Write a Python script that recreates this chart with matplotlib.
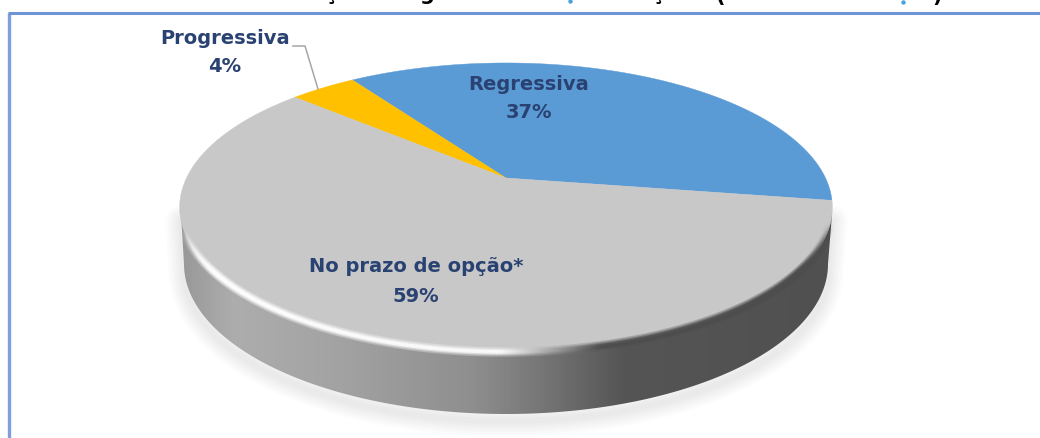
import numpy as np
import matplotlib
matplotlib.use('Agg')
import matplotlib.pyplot as plt
from matplotlib.collections import LineCollection
from matplotlib.colors import LinearSegmentedColormap
from matplotlib.patches import Polygon
from matplotlib.path import Path
from matplotlib.transforms import Affine2D, Transform

categories = ['Regressiva', 'Progressiva', 'No prazo de opção*']
shares = [37, 4, 59]
slice_colors = ['#5B9BD5', '#FFC000', '#C8C8C8']
title_bits = ['ç', 'g', 'ç', '(', ')']
title_x = [330, 427, 657, 720, 937]

W, H = 1040, 439
TEXT = '#2A4272'

# pie plane to pixel position, perspective of the tilted disc
CX, CY = 506, 179
A, B, K = 319.5, 138.5, 0.204


class Tilt(Transform):
    input_dims = 2
    output_dims = 2

    def transform_non_affine(self, values):
        xy = np.asarray(values, dtype=float)
        w = 1 + K * xy[:, 1]
        return np.column_stack([CX + A * xy[:, 0] / w, CY - B * xy[:, 1] / w])

    def transform_path_non_affine(self, path):
        # flatten the arcs first, bezier handles do not survive a perspective
        big = path.transformed(Affine2D().scale(2000))
        poly = big.to_polygons(closed_only=False)[0] / 2000
        return Path(self.transform_non_affine(poly))


def disc_edge(t):
    return Tilt().transform_non_affine(np.column_stack([np.cos(t), np.sin(t)]))


fig = plt.figure(figsize=(W / 100, H / 100), dpi=100)
ax = fig.add_axes([0, 0, 1, 1])

wedges, _ = ax.pie(shares, colors=slice_colors, startangle=-9, counterclock=True)
tilt = Tilt()
for w in wedges:
    w.set_transform(tilt + ax.transData)
    w.set_edgecolor(w.get_facecolor())
    w.set_linewidth(0.3)
    w.set_zorder(5)

# side wall of the disc
t = np.linspace(0, np.pi, 200)
low_x = 506 + 322 * np.cos(t)
low_y = 265 + 150 * np.sin(t)
wall = np.column_stack([np.r_[832, low_x, 181], np.r_[215, low_y, 215]])

# soft shadow under the wall
for lw in np.arange(22, 1, -3):
    ax.add_patch(Polygon(wall + [0, 7], closed=True, facecolor='none', edgecolor='#707070',
                         linewidth=lw, alpha=0.018, joinstyle='round', zorder=1))

stops = [(0.0, '#989898'), (0.08, '#ADADAD'), (0.25, '#A2A2A2'), (0.45, '#8E8E8E'),
         (0.55, '#777777'), (0.68, '#555555'), (1.0, '#505050')]
cmap = LinearSegmentedColormap.from_list('wall', stops)
im = ax.imshow(np.linspace(0, 1, 400)[None, :], cmap=cmap, extent=[180, 833, 420, 200],
               aspect='auto', zorder=3)
clip = Polygon(wall, closed=True, transform=ax.transData, facecolor='none', edgecolor='none')
ax.add_patch(clip)
im.set_clip_path(clip)

# bevel along the near rim, bright on the left and dark on the right
t = np.linspace(np.radians(14), np.radians(165), 300)
rim = disc_edge(-t)
segs = np.stack([rim[:-1], rim[1:]], axis=1)
mid_x = (segs[:, 0, 0] + segs[:, 1, 0]) / 2
mix = np.clip((mid_x - 500) / 100, 0, 1)
fade = np.clip(np.minimum(mid_x - 183, 830 - mid_x) / 30, 0, 1)
for lw, a in [(7, 0.14), (4.5, 0.25), (2.6, 0.5)]:
    rgba = np.zeros((len(segs), 4))
    rgba[:, :3] = (1 - mix)[:, None] * 1.0 + mix[:, None] * 0.3
    rgba[:, 3] = a * fade
    ax.add_collection(LineCollection(segs, colors=rgba, linewidths=lw, capstyle='round', zorder=6))

# leader line of the small slice
ax.plot([293, 305, 318], [47, 47, 90], color='#A6A6A6', lw=1.1, zorder=7)

label_x = [529, 225, 416]
label_y = [85, 38, 267]
pct_x = [529, 225, 416]
pct_y = [113, 67, 297]
for name, share, lx, ly, px, py in zip(categories, shares, label_x, label_y, pct_x, pct_y):
    ax.text(lx, ly, name, ha='center', va='center', fontsize=14, fontweight='bold',
            family='DejaVu Sans', color=TEXT, zorder=8)
    ax.text(px, py, f'{share}%', ha='center', va='center', fontsize=14, fontweight='bold',
            family='DejaVu Sans', color=TEXT, zorder=8)

# title is cut by the top of the picture, only the lowest strokes show
for ch, x in zip(title_bits, title_x):
    ax.text(x, 2 if ch in '()' else 0.5, ch, ha='center', va='baseline', fontsize=15,
            fontweight='bold', color='black', zorder=8)
ax.plot([570, 903], [2, 3], ls='none', marker='o', ms=2.2, color='#4AA3DF', zorder=8)

# outer frame, open on the right and bottom sides of the crop
ax.plot([9, 9], [H, 13.5], color='#7F9FDC', lw=2.4, zorder=9, solid_capstyle='butt')
ax.plot([7.5, W], [13.5, 13.5], color='#6F94D4', lw=2.2, zorder=9, solid_capstyle='butt')

ax.set_aspect('auto')
ax.set_xlim(0, W)
ax.set_ylim(H, 0)
ax.axis('off')
fig.savefig('out.png', dpi=100)
